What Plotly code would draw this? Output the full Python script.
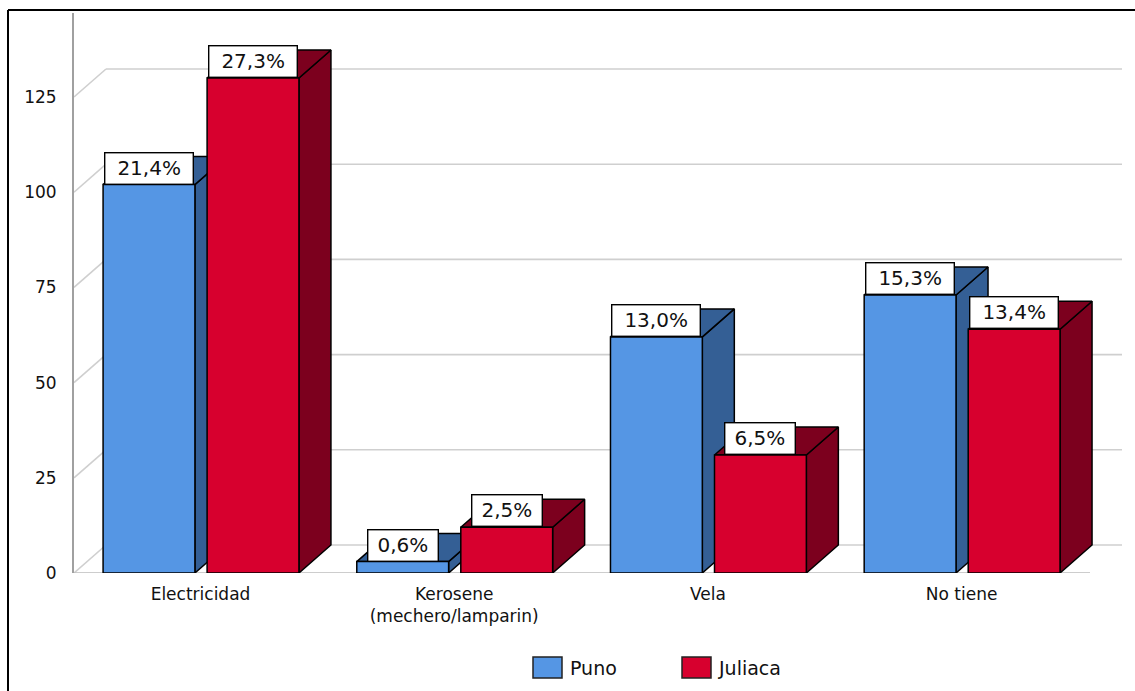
import plotly.graph_objects as go

# ---- data -------------------------------------------------------------
categories = ["Electricidad", "Kerosene<br>(mechero/lamparin)", "Vela", "No tiene"]
series_names = ["Puno", "Juliaca"]
puno_counts = [102, 3, 62, 73]
juliaca_counts = [130, 12, 31, 64]
y_ticks = [0, 25, 50, 75, 100, 125]

total = sum(puno_counts) + sum(juliaca_counts)


def pct_label(n):
    return f"{100 * n / total:.1f}".replace(".", ",") + "%"


# ---- geometry / style ---------------------------------------------------
W, H = 1135, 691
ML, MR, MT, MB = 74, 13, 13, 118
PW, PH = W - ML - MR, H - MT - MB
CAT_PX = 253.7                     # pixels between category centres
Y_MAX = 147.06
X_MIN = -126.5 / CAT_PX
X_MAX = X_MIN + PW / CAT_PX
PX_X = CAT_PX                      # px per x unit
PX_Y = PH / Y_MAX                  # px per y unit
DX = 32 / PX_X                     # depth offset (x units)
DY = 28 / PX_Y                     # depth offset (y units)
BAR_W = 0.362
OFFSETS = [-0.384, 0.026]

FRONT = ["#5596E4", "#D7002E"]
DARK = ["#345F95", "#7C001E"]
EDGE = "black"
GRID = "#CFCFCF"
FONT = "DejaVu Sans"


def paper_x(px):
    return (px - ML) / PW


def paper_y(py):
    return (H - MB - py) / PH


fig = go.Figure()


def poly(xs, ys, color):
    fig.add_trace(go.Scatter(
        x=xs + [xs[0]], y=ys + [ys[0]], mode="lines", fill="toself",
        fillcolor=color, line=dict(color=EDGE, width=1.5),
        hoverinfo="skip", showlegend=False))


annotations = []
series_values = [puno_counts, juliaca_counts]
for ci in range(len(categories)):
    for si, values in enumerate(series_values):
        v = values[ci]
        xl = ci + OFFSETS[si]
        xr = xl + BAR_W
        # side face
        poly([xr, xr + DX, xr + DX, xr], [0, DY, v + DY, v], DARK[si])
        # top face
        poly([xl, xr, xr + DX, xl + DX], [v, v, v + DY, v + DY], DARK[si])
        # front face
        poly([xl, xr, xr, xl], [0, 0, v, v], FRONT[si])
        label = pct_label(v)
        annotations.append(dict(
            x=(xl + xr) / 2, y=v, xref="x", yref="y",
            text=label, showarrow=False, xanchor="center", yanchor="bottom",
            font=dict(family=FONT, size=20, color="#111111"),
            bgcolor="white", bordercolor="black", borderwidth=1.4,
            borderpad=2, width=18.5 * len(label) - 9, height=26))

# back wall grid lines and their diagonal connectors
shapes = []
for t in y_ticks:
    shapes.append(dict(type="line", xref="x", yref="y", layer="below",
                       x0=X_MIN + DX, x1=X_MAX, y0=t + DY, y1=t + DY,
                       line=dict(color=GRID, width=1.6)))
    shapes.append(dict(type="line", xref="x", yref="y", layer="below",
                       x0=X_MIN, x1=X_MIN + DX, y0=t, y1=t + DY,
                       line=dict(color=GRID, width=1.6)))
# front floor edge
shapes.append(dict(type="line", xref="x", yref="y", layer="below",
                   x0=X_MIN, x1=X_MAX - DX, y0=0, y1=0,
                   line=dict(color="#BDBDBD", width=1.6)))

# outer frame (left and top edges)
shapes.append(dict(type="line", xref="paper", yref="paper",
                   x0=paper_x(8), x1=paper_x(W + 5), y0=paper_y(10), y1=paper_y(10),
                   line=dict(color="black", width=2)))
shapes.append(dict(type="line", xref="paper", yref="paper",
                   x0=paper_x(8), x1=paper_x(8), y0=paper_y(10), y1=paper_y(H + 5),
                   line=dict(color="black", width=2)))

# legend
legend_items = [(533, 568), (682, 716)]
for si, name in enumerate(series_names):
    sx, tx = legend_items[si]
    shapes.append(dict(type="rect", xref="paper", yref="paper",
                       x0=paper_x(sx), x1=paper_x(sx + 29),
                       y0=paper_y(657), y1=paper_y(678),
                       fillcolor=FRONT[si], line=dict(color="#222222", width=1.5)))
    annotations.append(dict(
        x=paper_x(tx), y=paper_y(668), xref="paper", yref="paper",
        text=name, showarrow=False, xanchor="left", yanchor="middle",
        font=dict(family=FONT, size=19, color="#111111")))

fig.update_layout(
    width=W, height=H,
    margin=dict(l=ML, r=MR, t=MT, b=MB, pad=0),
    paper_bgcolor="white", plot_bgcolor="white",
    showlegend=False,
    shapes=shapes, annotations=annotations,
    font=dict(family=FONT, color="#111111"),
    xaxis=dict(range=[X_MIN, X_MAX], tickvals=list(range(len(categories))),
               ticktext=categories, showgrid=False, zeroline=False,
               showline=False, ticks="", tickfont=dict(size=17),
               ticklabelstandoff=9, fixedrange=True),
    yaxis=dict(range=[0, Y_MAX], tickvals=y_ticks, showgrid=False,
               zeroline=False, showline=True, linecolor="#A0A0A0", linewidth=2,
               ticks="", tickfont=dict(size=17), ticklabelstandoff=12,
               fixedrange=True),
)

fig.write_html("out.html")
